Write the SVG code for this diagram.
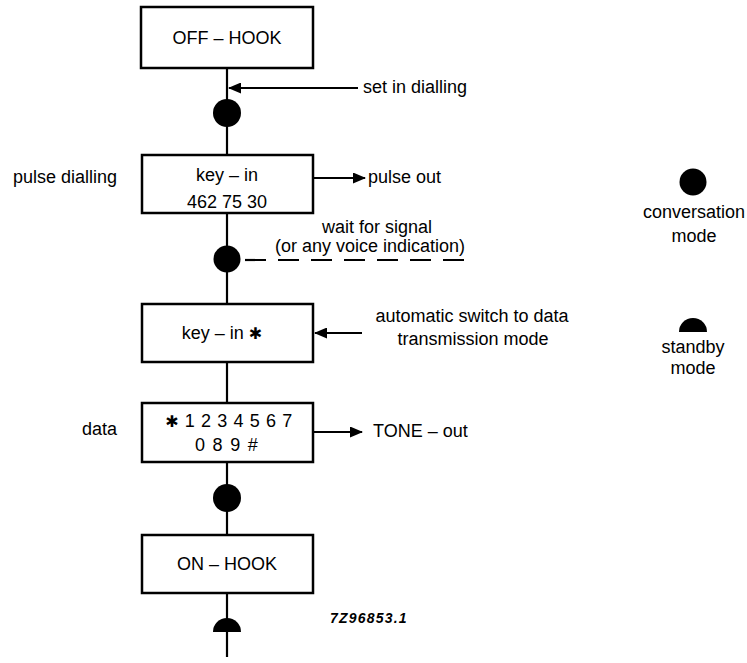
<svg xmlns="http://www.w3.org/2000/svg" width="747" height="663" viewBox="0 0 747 663">
<style>
.box{fill:#fff;stroke:#000;stroke-width:2.5}
.ln{stroke:#000;stroke-width:2.2;fill:none}
.t{font-family:"Liberation Sans",Arial,"DejaVu Sans",sans-serif;font-size:18px;fill:#000}
.m{text-anchor:middle}
.dot{fill:#000}
.star{font-family:"DejaVu Sans",sans-serif;font-size:16px}
</style>
<defs>
<marker id="ah" viewBox="0 0 13 11" refX="12" refY="5.5" markerWidth="13" markerHeight="11" markerUnits="userSpaceOnUse" orient="auto">
<path d="M0,0 L13,5.5 L0,11 Z" fill="#000"/>
</marker>
</defs>
<rect width="747" height="663" fill="#fff"/>
<g id="connectors">
<line class="ln" x1="227" y1="68" x2="227" y2="155"/>
<line class="ln" x1="227" y1="213" x2="227" y2="304"/>
<line class="ln" x1="227" y1="362" x2="227" y2="403"/>
<line class="ln" x1="227" y1="462" x2="227" y2="535"/>
<line class="ln" x1="227" y1="593" x2="227" y2="657"/>
<line class="ln" x1="358" y1="88" x2="229" y2="88" marker-end="url(#ah)"/>
<line class="ln" x1="313" y1="178" x2="365" y2="178" marker-end="url(#ah)"/>
<line class="ln" x1="245" y1="260" x2="473" y2="260" stroke-dasharray="21 12"/>
<line class="ln" x1="362" y1="333" x2="315" y2="333" marker-end="url(#ah)"/>
<line class="ln" x1="313" y1="432" x2="362" y2="432" marker-end="url(#ah)"/>
</g>
<g id="off-hook">
<rect class="box" x="141" y="7" width="172" height="61"/>
<text class="t m" x="227" y="44">OFF – HOOK</text>
</g>
<g id="state1"><circle class="dot" cx="227" cy="113" r="14"/></g>
<g id="set-in-dialling"><text class="t" x="363" y="93">set in dialling</text></g>
<g id="key-in-number">
<rect class="box" x="142" y="155" width="171" height="58"/>
<text class="t m" x="227" y="181">key – in</text>
<text class="t m" x="227" y="208">462 75 30</text>
</g>
<g id="pulse-dialling"><text class="t" x="13" y="183">pulse dialling</text></g>
<g id="pulse-out"><text class="t" x="368" y="183">pulse out</text></g>
<g id="wait-signal">
<text class="t m" x="377" y="233">wait for signal</text>
<text class="t m" x="370" y="252">(or any voice indication)</text>
</g>
<g id="state2"><circle class="dot" cx="227" cy="259" r="13.5"/></g>
<g id="key-in-star">
<rect class="box" x="142" y="304" width="171" height="58"/>
<text class="t m" x="222" y="339">key – in <tspan class="star">✱</tspan></text>
</g>
<g id="auto-switch">
<text class="t m" x="472" y="322">automatic switch to data</text>
<text class="t m" x="473" y="345">transmission mode</text>
</g>
<g id="data-digits">
<rect class="box" x="142" y="403" width="171" height="59"/>
<text class="t m" x="229" y="427" letter-spacing="0.6"><tspan class="star">✱</tspan> 1 2 3 4 5 6 7</text>
<text class="t m" x="227" y="451" letter-spacing="1.3">0 8 9 #</text>
</g>
<g id="data-label"><text class="t" x="82" y="435">data</text></g>
<g id="tone-out"><text class="t" x="373" y="437">TONE – out</text></g>
<g id="state3"><circle class="dot" cx="227" cy="498" r="14"/></g>
<g id="on-hook">
<rect class="box" x="142" y="535" width="171" height="58"/>
<text class="t m" x="227" y="570">ON – HOOK</text>
</g>
<g id="state4"><path class="dot" d="M213,632 A14,14 0 0 1 241,632 Z"/></g>
<g id="figure-code"><text x="330" y="623" font-family="Liberation Sans,Arial,sans-serif" font-size="14" font-style="italic" font-weight="bold" letter-spacing="1.2">7Z96853.1</text></g>
<g id="legend-conversation">
<circle class="dot" cx="693" cy="182" r="13.5"/>
<text class="t m" x="694" y="218">conversation</text>
<text class="t m" x="694" y="242">mode</text>
</g>
<g id="legend-standby">
<path class="dot" d="M679,332 A14,14 0 0 1 707,332 Z"/>
<text class="t m" x="693" y="353">standby</text>
<text class="t m" x="693" y="374">mode</text>
</g>
</svg>
